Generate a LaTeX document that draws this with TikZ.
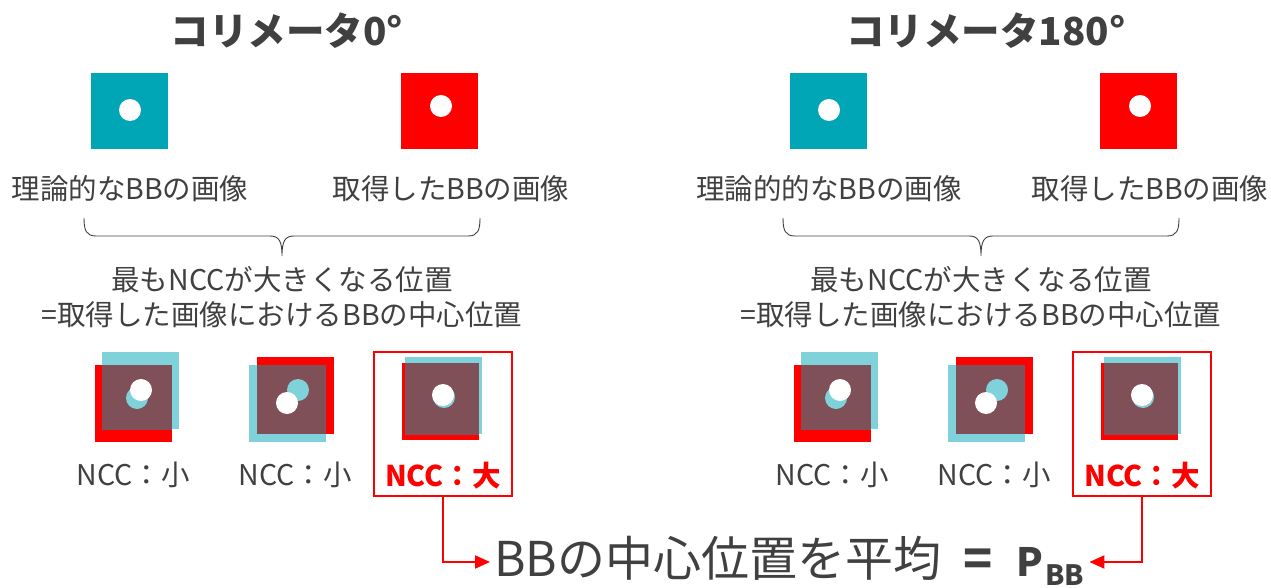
\documentclass[tikz,border=0pt]{standalone}
\usepackage{fontspec}
\setmainfont{Noto Sans CJK JP}
\usetikzlibrary{arrows.meta}
\definecolor{txt}{HTML}{404040}
\definecolor{teal1}{HTML}{00A6B6}
\definecolor{teal2}{HTML}{80D2DA}
\definecolor{red1}{HTML}{FF0000}
\definecolor{brown1}{HTML}{7F5058}
\newcommand\grp[9]{%
  % #1 name, #2,#3 teal corner, #4,#5 red corner, #6,#7 teal dot, #8,#9 white dot
  \fill[teal2] (#2,#3) rectangle ++(77,77);
  \fill[red1] (#4,#5) rectangle ++(77,77);
  \begin{scope}
    \clip (#2,#3) rectangle ++(77,77);
    \fill[brown1] (#4,#5) rectangle ++(77,77);
  \end{scope}
  \fill[teal2] (#6,#7) circle (11);
  \fill[white] (#8,#9) circle (11);
  \coordinate (#1) at (#4,#5);
}
\tikzset{
  title/.style={text=txt,font=\bfseries\fontsize{38.5}{44}\selectfont,inner sep=0pt},
  lbl/.style={text=txt,font=\fontsize{28.5}{34}\selectfont,inner sep=0pt},
  ncc/.style={text=txt,font=\fontsize{28.5}{34}\selectfont,inner sep=0pt},
  nccbig/.style={text=red1,font=\bfseries\fontsize{28.5}{34}\selectfont,inner sep=0pt},
  selbox/.style={draw=red1,line width=1.6pt},
  bracepath/.style={draw=txt,line width=0.9pt},
  arr/.style={draw=red1,line width=2pt,-{Triangle[length=15pt,width=13pt]}},
  result/.style={text=txt,font=\fontsize{48}{54}\selectfont,inner sep=0pt},
}
\begin{document}
\begin{tikzpicture}[x=1pt,y=-1pt]
\useasboundingbox (0,0) rectangle (1271,588);
\foreach \dx/\ang/\lab/\nm in {0/0/理論的な/L,699/180/理論的的な/R}{
  \begin{scope}[xshift=\dx pt]
    \node[title] (title\nm) at (287,31) {コリメータ\ang°};
    \fill[teal1] (91,73) rectangle (168,149);
    \fill[white] (130,110) circle (11);
    \fill[red1] (401,73) rectangle (478,149);
    \fill[white] (441,106) circle (11);
    \node[lbl] (theo\nm) at (130,189) {\lab BBの画像};
    \node[lbl] (acq\nm) at (451,189) {取得したBBの画像};
    \path[bracepath] (84,218) .. controls (84,230) and (86,236) .. (96,236) -- (270,236)
      .. controls (279,236) and (282,241) .. (282,256)
      .. controls (282,241) and (285,236) .. (294,236) -- (468,236)
      .. controls (478,236) and (480,230) .. (480,218);
    \node[lbl] (ncctxt\nm) at (282,280) {最もNCCが大きくなる位置};
    \node[lbl] (center\nm) at (282,315) {=取得した画像におけるBBの中心位置};
    \grp{g1\nm}{102}{352}{95}{365}{137}{398}{141}{390}
    \grp{g2\nm}{249}{365}{257}{357}{298}{390}{287}{403}
    \grp{g3\nm}{405}{357}{402}{363}{444}{397}{443}{395}
    \node[ncc] (n1\nm) at (133,475) {NCC：小};
    \node[ncc] (n2\nm) at (295,475) {NCC：小};
    \node[nccbig] (n3\nm) at (443,476) {NCC：大};
    \node[selbox,minimum width=138pt,minimum height=144pt,inner sep=0pt] (box\nm) at (443,424) {};
  \end{scope}
}
\node[result,anchor=base west] (res) at (494,576) {BBの中心位置を平均\hspace{22pt}\textbf{=}\hspace{24pt}{\bfseries\fontsize{39}{44}\selectfont P}\hspace{2pt}\raisebox{-9.5pt}{\bfseries\fontsize{28}{32}\selectfont BB}};
\draw[arr] (boxL.south) |- ([xshift=-4pt,yshift=14pt]res.base west);
\draw[arr] (boxR.south) |- ([xshift=5pt,yshift=14pt]res.base east);
\end{tikzpicture}
\end{document}
